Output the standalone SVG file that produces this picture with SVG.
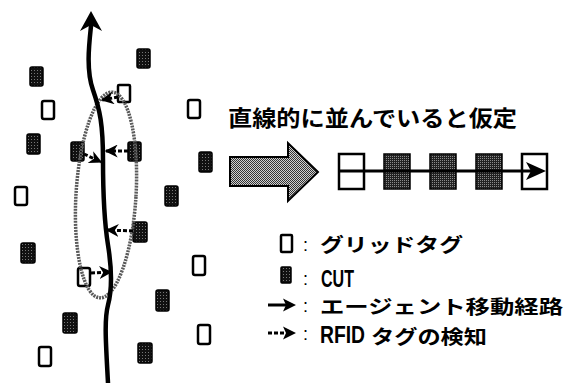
<svg xmlns="http://www.w3.org/2000/svg" width="570" height="383" viewBox="0 0 570 383">
<defs>
<pattern id="cutpat" width="3" height="3" patternUnits="userSpaceOnUse">
<rect width="3" height="3" fill="#111"/>
<rect x="1" y="1" width="1" height="1" fill="#777"/>
</pattern>
<pattern id="cutsq" width="2" height="2" patternUnits="userSpaceOnUse">
<rect width="2" height="2" fill="#222"/>
<rect x="0" y="0" width="1" height="1" fill="#8a8a8a"/>
</pattern>
<pattern id="bigpat" width="2" height="2" patternUnits="userSpaceOnUse">
<rect width="2" height="2" fill="#d0d0d0"/>
<rect x="0" y="0" width="1" height="1" fill="#333"/>
<rect x="1" y="1" width="1" height="1" fill="#333"/>
</pattern>
<marker id="ah" viewBox="0 0 10 10" refX="9" refY="5" markerWidth="13" markerHeight="13" markerUnits="userSpaceOnUse" orient="auto">
<path d="M0,0 L10,5 L0,10 L3,5 z" fill="#000"/>
</marker>
</defs>
<style>
.grid{fill:#fff;stroke:#000;stroke-width:2.5}
.cut{fill:url(#cutpat);stroke:#000;stroke-width:1.5}
.det{fill:none;stroke:#000;stroke-width:3;stroke-dasharray:4 2;marker-end:url(#ah)}
.path{fill:none;stroke:#000;stroke-width:4.5;stroke-linecap:round}
.jp{font-family:"Noto Sans CJK JP","Noto Sans",sans-serif;font-size:22px;font-weight:bold;fill:#000}
.lg{font-size:19px}
.lat{font-family:"Liberation Sans",Arial,sans-serif;font-size:24px;font-weight:bold;fill:#000}
.col{font-family:"Liberation Sans",Arial,sans-serif;font-size:18px;font-weight:normal;fill:#000}
</style>

<g id="tags">
<rect id="g1" class="grid" x="118" y="85" width="12" height="17" rx="1"/>
<rect id="g2" class="grid" x="42" y="101" width="12" height="18" rx="2"/>
<rect id="g3" class="grid" x="188" y="100" width="12" height="18" rx="2"/>
<rect id="g4" class="grid" x="15" y="187" width="12" height="18" rx="2"/>
<rect id="g5" class="grid" x="193" y="256" width="12" height="19" rx="2"/>
<rect id="g6" class="grid" x="78" y="268" width="12" height="18" rx="2"/>
<rect id="g7" class="grid" x="198" y="325" width="12" height="19" rx="2"/>
<rect id="g8" class="grid" x="39" y="347" width="12" height="19" rx="2"/>
<rect id="c1" class="cut" x="137" y="49" width="13" height="19" rx="2"/>
<rect id="c2" class="cut" x="30" y="67" width="13" height="19" rx="2"/>
<rect id="c3" class="cut" x="27" y="134" width="13" height="20" rx="2"/>
<rect id="c4" class="cut" x="71" y="142" width="13" height="19" rx="2"/>
<rect id="c5" class="cut" x="128" y="142" width="13" height="19" rx="2"/>
<rect id="c6" class="cut" x="199" y="152" width="13" height="20" rx="2"/>
<rect id="c7" class="cut" x="165" y="186" width="13" height="20" rx="2"/>
<rect id="c8" class="cut" x="133" y="222" width="14" height="20" rx="2"/>
<rect id="c9" class="cut" x="21" y="243" width="14" height="20" rx="2"/>
<rect id="c10" class="cut" x="156" y="290" width="13" height="21" rx="2"/>
<rect id="c11" class="cut" x="63" y="313" width="14" height="20" rx="2"/>
<rect id="c12" class="cut" x="138" y="343" width="14" height="20" rx="2"/>
</g>

<g id="area">
<ellipse cx="106" cy="195" rx="30" ry="103" transform="rotate(3.5 106 195)" fill="none" stroke="#5a5a5a" stroke-width="3.5" stroke-dasharray="2 1"/>
</g>

<g id="connectors">
<path id="agent-path" class="path" d="M91,26 C89,45 86,70 93,90 C100,110 103,125 103,160 C103,195 104,220 108,245 C112,270 112,290 108,305 C104,320 106,345 108,383"/>
<path d="M91,11 L102,31 L91,25 L80,31 z" fill="#000"/>
<line class="det" x1="118" y1="97" x2="102" y2="100"/>
<line class="det" x1="84" y1="154" x2="101" y2="162"/>
<line class="det" x1="128" y1="151" x2="106" y2="151"/>
<line class="det" x1="133" y1="231" x2="107" y2="230"/>
<line class="det" x1="91" y1="273" x2="111" y2="272"/>
</g>

<g id="assumption">
<text class="jp" x="228" y="126" textLength="289" lengthAdjust="spacingAndGlyphs">直線的に並んでいると仮定</text>
<polygon points="230,157 288,157 288,143 318,172 288,201 288,186 230,186" fill="url(#bigpat)" stroke="#000" stroke-width="2"/>
<rect class="grid" x="339" y="154" width="25" height="35"/>
<rect x="384" y="154" width="26" height="35" fill="url(#cutsq)" stroke="#000" stroke-width="1.5"/>
<rect x="430" y="154" width="26" height="35" fill="url(#cutsq)" stroke="#000" stroke-width="1.5"/>
<rect x="476" y="154" width="26" height="35" fill="url(#cutsq)" stroke="#000" stroke-width="1.5"/>
<rect class="grid" x="522" y="154" width="25" height="35"/>
<line x1="339" y1="171" x2="540" y2="171" stroke="#000" stroke-width="3"/>
<path d="M546,171 L526,162 L531,171 L526,180 z" fill="#000"/>
</g>

<g id="legend">
<rect class="grid" x="281" y="235" width="11" height="17" rx="1"/>
<text class="col" x="303" y="251">:</text>
<text class="jp lg" x="320" y="252" textLength="143" lengthAdjust="spacingAndGlyphs">グリッドタグ</text>
<rect class="cut" x="281" y="267" width="10" height="16" rx="1"/>
<text class="col" x="303" y="285">:</text>
<text class="lat" x="321" y="287" textLength="33" lengthAdjust="spacingAndGlyphs">CUT</text>
<line x1="268" y1="305" x2="290" y2="305" stroke="#000" stroke-width="3"/>
<path d="M296,305 L283,298.5 L286,305 L283,311.5 z" fill="#000"/>
<text class="col" x="303" y="312">:</text>
<text class="jp lg" x="320" y="314" textLength="243" lengthAdjust="spacingAndGlyphs">エージェント移動経路</text>
<line x1="268" y1="333" x2="290" y2="333" stroke="#000" stroke-width="3" stroke-dasharray="4 2"/>
<path d="M296,333 L283,326.5 L286,333 L283,339.5 z" fill="#000"/>
<text class="col" x="303" y="340">:</text>
<text class="lat" x="320" y="343" textLength="45" lengthAdjust="spacingAndGlyphs">RFID</text>
<text class="jp lg" x="371" y="344" textLength="116" lengthAdjust="spacingAndGlyphs">タグの検知</text>
</g>
</svg>
